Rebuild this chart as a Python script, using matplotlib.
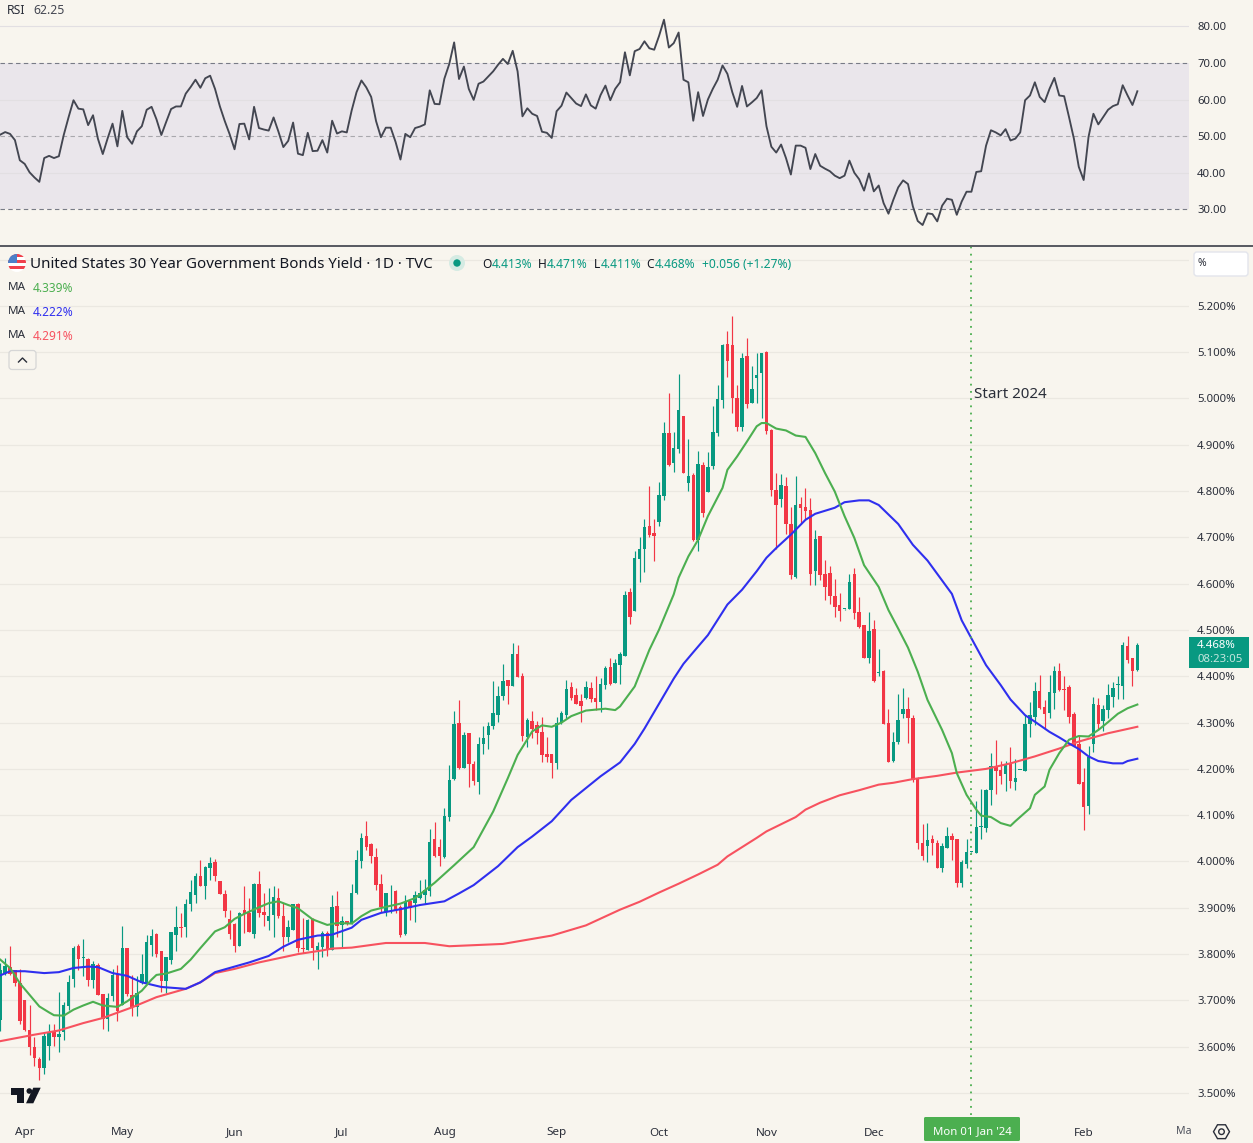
import numpy as np
import matplotlib
matplotlib.use("Agg")
import matplotlib.pyplot as plt
from matplotlib.patches import Circle, FancyBboxPatch, Rectangle, Polygon, RegularPolygon

plt.rcParams['font.family'] = ['Noto Sans', 'DejaVu Sans']

opens = [3.658,3.760,3.773,3.766,3.737,3.701,3.635,3.599,3.574,3.553,
 3.602,3.633,3.622,3.631,3.687,3.747,3.818,3.791,3.790,3.745,
 3.777,3.714,3.660,3.709,3.758,3.691,3.814,3.712,3.686,3.737,
 3.737,3.820,3.844,3.807,3.742,3.788,3.842,3.858,3.858,3.909,
 3.928,3.969,3.948,3.987,3.999,3.958,3.930,3.876,3.865,3.817,
 3.896,3.889,3.844,3.952,3.891,3.872,3.885,3.922,3.883,3.838,
 3.853,3.908,3.814,3.809,3.876,3.808,3.815,3.845,3.809,3.904,3.862,3.872,
 3.864,3.932,4.002,4.056,4.038,4.010,3.952,3.892,
 3.931,3.937,3.902,3.844,3.914,3.910,3.921,3.928,3.936,4.049,
 4.032,4.010,4.097,4.179,4.299,4.202,4.277,4.211,4.172,4.254,
 4.274,4.293,4.317,4.358,4.392,4.379,4.448,4.401,4.269,4.304,
 4.295,4.280,4.233,4.233,4.212,4.299,4.316,4.377,4.360,4.347,
 4.353,4.375,4.353,4.345,4.381,4.420,4.385,4.425,4.444,4.581,
 4.540,4.654,4.676,4.725,4.710,4.734,4.790,4.926,4.861,4.891,
 4.963,4.818,4.835,4.695,4.857,4.799,4.855,4.926,4.997,5.118,
 5.116,5.001,4.939,5.092,4.991,5.045,5.055,5.101,4.932,4.803,
 4.784,4.812,4.728,4.615,4.773,4.766,4.760,4.628,4.702,4.620,
 4.624,4.574,4.553,4.545,4.545,4.620,4.538,4.510,4.440,4.502,
 4.408,4.411,4.299,4.217,4.258,4.319,4.329,4.309,4.180,4.041,
 4.034,4.049,4.041,3.985,4.030,4.054,4.049,3.954,3.995,4.020,
 4.019,4.075,4.073,4.155,4.207,4.198,4.189,4.211,4.172,4.197,
 4.196,4.297,4.312,4.368,4.334,4.321,4.364,4.411,4.372,4.377,
 4.319,4.254,4.172,4.120,4.254,4.338,4.303,4.327,4.355,4.381,
 4.379,4.465,4.439,4.413]
highs = [3.781,3.791,3.817,3.766,3.768,3.701,3.689,3.622,3.578,3.630,
 3.648,3.648,3.719,3.696,3.755,3.818,3.822,3.833,3.791,3.786,
 3.781,3.714,3.716,3.768,3.777,3.860,3.814,3.755,3.753,3.800,
 3.842,3.854,3.845,3.807,3.794,3.848,3.904,3.888,3.919,3.960,
 3.975,4.004,3.991,4.009,4.005,3.958,3.939,3.896,3.867,3.890,
 3.948,3.921,3.953,3.980,3.932,3.942,3.947,3.942,3.910,3.874,
 3.909,3.910,3.878,3.875,3.878,3.827,3.849,3.849,3.928,3.937,3.882,3.872,
 3.952,4.024,4.061,4.088,4.040,4.029,3.972,3.932,
 3.950,3.938,3.905,3.928,3.916,3.936,3.961,3.963,4.070,4.086,
 4.049,4.115,4.209,4.325,4.349,4.279,4.277,4.218,4.268,4.293,
 4.302,4.390,4.378,4.427,4.392,4.473,4.468,4.407,4.309,4.325,
 4.304,4.313,4.269,4.233,4.312,4.325,4.392,4.388,4.374,4.362,
 4.390,4.388,4.401,4.396,4.422,4.440,4.437,4.452,4.585,4.591,
 4.671,4.700,4.740,4.810,4.740,4.820,4.950,5.012,4.928,5.053,
 4.963,4.913,4.840,4.887,4.863,4.885,4.984,5.030,5.118,5.146,
 5.178,5.030,5.099,5.131,5.071,5.099,5.099,5.103,4.934,4.840,
 4.838,4.831,4.766,4.833,4.788,4.807,4.786,4.717,4.702,4.652,
 4.639,4.611,4.579,4.546,4.622,4.634,4.571,4.511,4.538,4.521,
 4.459,4.413,4.329,4.279,4.362,4.375,4.355,4.316,4.183,4.082,
 4.084,4.057,4.047,4.041,4.075,4.062,4.049,4.004,4.049,4.021,
 4.131,4.157,4.157,4.235,4.263,4.217,4.217,4.247,4.222,4.198,
 4.316,4.344,4.387,4.403,4.349,4.403,4.422,4.428,4.400,4.381,
 4.323,4.271,4.202,4.250,4.355,4.353,4.338,4.383,4.387,4.400,
 4.474,4.487,4.439,4.471]
lows = [3.633,3.755,3.755,3.732,3.648,3.633,3.583,3.558,3.529,3.540,
 3.572,3.601,3.588,3.615,3.680,3.730,3.766,3.752,3.732,3.727,
 3.712,3.638,3.633,3.698,3.655,3.691,3.709,3.666,3.667,3.736,
 3.737,3.795,3.794,3.719,3.717,3.779,3.806,3.837,3.838,3.894,
 3.910,3.948,3.920,3.960,3.957,3.929,3.881,3.832,3.804,3.817,
 3.845,3.847,3.835,3.881,3.861,3.853,3.838,3.878,3.806,3.827,
 3.853,3.804,3.802,3.808,3.788,3.768,3.794,3.796,3.809,3.838,3.814,3.863,
 3.864,3.930,3.987,4.025,3.997,3.939,3.892,3.882,
 3.889,3.889,3.836,3.842,3.874,3.869,3.918,3.909,3.925,4.010,
 3.991,4.008,4.087,4.176,4.199,4.202,4.160,4.166,4.146,4.233,
 4.243,4.287,4.302,4.349,4.340,4.379,4.398,4.261,4.248,4.267,
 4.254,4.214,4.215,4.181,4.200,4.297,4.310,4.349,4.340,4.302,
 4.351,4.345,4.327,4.322,4.373,4.381,4.385,4.384,4.444,4.512,
 4.540,4.604,4.626,4.700,4.650,4.725,4.781,4.855,4.842,4.883,
 4.840,4.801,4.693,4.671,4.743,4.797,4.848,4.920,4.980,5.047,
 4.969,4.930,4.930,4.980,4.991,4.991,4.958,4.924,4.790,4.676,
 4.766,4.708,4.611,4.613,4.728,4.738,4.598,4.598,4.609,4.564,
 4.557,4.529,4.520,4.544,4.545,4.524,4.505,4.440,4.429,4.388,
 4.401,4.296,4.214,4.214,4.254,4.309,4.256,4.171,4.027,4.004,
 3.998,4.013,3.985,3.978,4.030,4.004,3.944,3.946,3.987,4.019,
 4.019,4.049,4.064,4.123,4.146,4.168,4.153,4.159,4.155,4.197,
 4.196,4.269,4.295,4.329,4.286,4.310,4.329,4.368,4.327,4.299,
 4.250,4.168,4.067,4.103,4.237,4.284,4.282,4.310,4.334,4.351,
 4.351,4.428,4.379,4.411]
closes = [3.766,3.775,3.758,3.737,3.655,3.635,3.599,3.575,3.553,3.624,
 3.632,3.621,3.628,3.691,3.740,3.813,3.790,3.793,3.745,3.779,
 3.712,3.660,3.706,3.755,3.678,3.814,3.714,3.686,3.717,3.758,
 3.827,3.840,3.801,3.742,3.794,3.848,3.858,3.857,3.909,3.935,
 3.969,3.948,3.988,3.996,3.969,3.929,3.894,3.844,3.817,3.889,
 3.886,3.847,3.952,3.889,3.885,3.883,3.923,3.883,3.838,3.858,
 3.908,3.813,3.810,3.874,3.813,3.818,3.845,3.809,3.901,3.861,3.872,3.865,
 3.931,4.004,4.051,4.031,4.011,3.950,3.902,3.932,
 3.932,3.896,3.842,3.913,3.900,3.928,3.932,3.939,4.043,4.011,
 4.011,4.099,4.176,4.297,4.202,4.274,4.211,4.174,4.253,4.267,
 4.293,4.321,4.358,4.390,4.378,4.448,4.399,4.270,4.306,4.286,
 4.277,4.230,4.226,4.212,4.299,4.320,4.373,4.353,4.340,4.336,
 4.377,4.351,4.345,4.384,4.418,4.384,4.429,4.448,4.576,4.528,
 4.656,4.676,4.723,4.706,4.702,4.792,4.926,4.857,4.894,4.976,
 4.840,4.833,4.695,4.859,4.753,4.853,4.928,4.999,5.116,5.081,
 5.001,4.939,5.088,4.989,5.021,5.051,5.099,4.930,4.803,4.769,
 4.814,4.728,4.618,4.769,4.764,4.758,4.622,4.697,4.618,4.592,
 4.574,4.549,4.540,4.546,4.603,4.537,4.507,4.440,4.498,4.390,
 4.410,4.296,4.214,4.258,4.305,4.329,4.311,4.175,4.039,4.011,
 4.047,4.041,3.987,4.034,4.054,4.047,3.954,3.998,4.021,4.021,
 4.075,4.077,4.155,4.207,4.196,4.185,4.209,4.174,4.181,4.198,
 4.297,4.316,4.368,4.331,4.319,4.366,4.411,4.370,4.371,4.312,
 4.250,4.168,4.118,4.226,4.340,4.298,4.329,4.359,4.375,4.383,
 4.467,4.435,4.411,4.468]

rsi = [50.4,51.1,50.6,48.9,43.4,42.4,40.1,38.7,37.5,44.0,44.6,44.0,44.5,50.3,55.2,59.8,57.5,57.3,53.0,55.7,
 49.3,45.1,49.4,53.4,47.2,56.9,49.7,47.9,51.3,52.7,57.2,58.0,54.6,50.3,53.9,57.4,58.1,58.1,61.6,63.4,
 65.4,63.2,65.8,66.5,62.9,58.1,54.1,50.5,46.4,53.3,53.4,49.1,58.0,52.2,51.8,51.5,55.1,51.2,47.0,48.7,
 53.7,45.2,44.8,50.9,45.9,46.0,48.9,45.5,54.2,50.7,51.3,51.0,57.0,62.0,65.2,63.3,60.7,54.1,49.7,52.3,
 52.3,48.4,43.6,50.6,49.7,52.2,52.6,53.2,62.5,58.8,58.7,65.7,69.7,75.6,65.6,69.0,62.9,59.9,64.3,64.9,
 66.3,67.7,69.5,71.1,69.7,73.3,67.7,55.4,57.6,56.1,55.5,51.2,50.9,49.5,56.8,58.3,61.9,60.4,58.9,58.2,
 61.4,58.4,57.5,61.2,63.8,59.8,62.9,64.7,72.9,66.6,73.2,73.8,75.9,74.0,73.6,77.4,81.8,74.2,75.4,78.3,
 65.4,64.7,54.2,62.0,55.5,60.0,62.9,65.4,69.3,67.0,62.0,58.0,63.7,58.1,59.2,60.4,62.5,52.7,47.1,45.5,
 47.7,44.0,39.5,47.4,47.4,46.8,41.0,45.1,41.9,41.1,40.4,39.2,38.5,39.2,43.3,40.0,38.2,35.1,39.8,34.9,
 36.5,31.7,28.8,32.6,36.0,37.9,36.9,30.8,26.8,25.7,28.9,28.7,26.7,31.0,32.9,32.6,28.5,32.1,34.8,34.8,
 40.2,40.4,47.4,51.6,51.0,50.2,51.9,48.8,49.3,51.0,59.8,61.1,64.7,60.7,59.3,62.9,65.9,61.1,60.9,55.2,
 49.3,41.6,38.0,49.8,56.1,53.2,55.2,57.2,58.2,58.7,63.9,61.1,58.5,62.25]

ma_green_day = [0,2,4,6,8,10,11,13,15,17,19,21,24,26,29,31,32,34,37,39,41,44,46,48,50,53,55,57,59,61,64,67,69,72,74,76,79,82,85,89,93,97,
 101,104,106,109,111,113,115,117,120,124,126,127,130,133,135,138,139,141,143,145,148,149,151,153,155,156,157,159,161,163,165,167,169,171,173,175,177,
 180,182,184,186,188,190,193,195,196,198,200,201,203,205,207,208,211,212,214,215,217,219,221,223,225,227,229,231,233]
ma_green = [3.788,3.770,3.737,3.712,3.687,3.674,3.668,3.667,3.680,3.689,3.697,3.689,3.686,3.698,3.721,3.745,3.755,3.758,3.768,3.788,3.813,3.849,3.858,3.876,3.887,3.901,3.910,3.914,3.906,3.899,3.875,3.863,3.867,3.866,3.882,3.894,3.902,3.909,3.921,3.954,3.992,4.031,
 4.108,4.180,4.230,4.281,4.294,4.291,4.300,4.314,4.326,4.330,4.327,4.335,4.378,4.457,4.501,4.577,4.613,4.659,4.695,4.746,4.807,4.846,4.875,4.907,4.940,4.947,4.947,4.935,4.931,4.920,4.917,4.882,4.839,4.799,4.746,4.699,4.640,
 4.593,4.543,4.503,4.462,4.410,4.349,4.284,4.234,4.191,4.144,4.112,4.099,4.096,4.083,4.077,4.087,4.115,4.144,4.162,4.198,4.234,4.263,4.271,4.270,4.284,4.301,4.319,4.331,4.339]

ma_blue_day = [0,2,5,9,12,15,18,20,23,26,29,33,38,41,44,48,51,55,58,61,65,68,72,74,78,82,86,91,94,97,102,106,109,113,117,123,127,130,132,135,138,140,142,145,149,152,155,157,159,162,165,167,171,173,176,178,180,184,187,190,195,197,199,202,205,207,210,212,215,217,219,221,223,225,228,230,231,233]
ma_blue = [3.754,3.763,3.763,3.759,3.761,3.770,3.773,3.772,3.759,3.753,3.739,3.729,3.725,3.739,3.761,3.773,3.782,3.796,3.816,3.831,3.840,3.842,3.857,3.874,3.889,3.897,3.906,3.914,3.931,3.949,3.990,4.031,4.054,4.087,4.133,4.184,4.214,4.254,4.287,4.341,4.395,4.427,4.452,4.489,4.555,4.587,4.627,4.656,4.677,4.706,4.738,4.751,4.764,4.776,4.780,4.780,4.770,4.729,4.684,4.650,4.578,4.521,4.482,4.424,4.381,4.350,4.316,4.302,4.280,4.268,4.255,4.243,4.227,4.217,4.212,4.212,4.217,4.222]

ma_red_day = [0,7,12,17,21,27,32,38,41,44,48,53,57,61,66,68,72,79,87,92,103,113,120,127,131,135,139,143,147,149,155,157,163,165,168,172,176,180,183,187,192,196,202,207,212,217,221,227,233]
ma_red = [3.612,3.626,3.635,3.651,3.662,3.685,3.707,3.725,3.739,3.759,3.768,3.782,3.791,3.800,3.808,3.812,3.814,3.824,3.824,3.817,3.822,3.840,3.862,3.896,3.913,3.933,3.952,3.972,3.993,4.011,4.051,4.065,4.096,4.112,4.127,4.143,4.154,4.166,4.170,4.178,4.185,4.192,4.200,4.212,4.227,4.244,4.259,4.277,4.291]

price_ticks = [3.5,3.6,3.7,3.8,3.9,4.0,4.1,4.2,4.3,4.4,4.5,4.6,4.7,4.8,4.9,5.0,5.1,5.2,5.3]
rsi_ticks = [30,40,50,60,70,80]
month_days = [5,25,48,70,91,114,135,157,179,222]
month_names = ['Apr','May','Jun','Jul','Aug','Sep','Oct','Nov','Dec','Feb']
start_day = 199

BG = '#F8F5EE'
GRID = '#EBE8E1'
UP = '#089981'
DOWN = '#F23645'
DARK = '#2A2E39'
W, H = 1253, 1143
DAY_PX = 4.88   # pixels per candle
PLOT_R = 1189   # end of the plot area

def add_axes_px(top, bottom):
    return fig.add_axes([0, 1 - bottom / H, PLOT_R / W, (bottom - top) / H])

fig = plt.figure(figsize=(W / 100, H / 100), dpi=100, facecolor=BG)

# RSI panel
ax_rsi = add_axes_px(0, 246)
ax_rsi.set_facecolor(BG)
ax_rsi.set_xlim(-0.3 / DAY_PX, (PLOT_R - 0.3) / DAY_PX)
ax_rsi.set_ylim(30 - 36.7 / 3.66, 80 + 26.3 / 3.66)
ax_rsi.axhspan(30, 70, color='#EAE6EB', lw=0, zorder=0)
for v in [40, 60, 80]:
    ax_rsi.axhline(v, color='#E2DFE2', lw=0.8, zorder=1)
for v in [30, 70]:
    ax_rsi.axhline(v, color='#787B86', lw=0.8, ls=(0, (4, 3)), zorder=1)
ax_rsi.axhline(50, color='#A9A8AD', lw=0.8, ls=(0, (4, 3)), zorder=1)
ax_rsi.plot(range(len(rsi)), rsi, color='#434651', lw=1.35, zorder=3)
ax_rsi.yaxis.tick_right()
ax_rsi.set_yticks(rsi_ticks)
ax_rsi.set_yticklabels([f'{v:.2f}' for v in rsi_ticks])
ax_rsi.tick_params(axis='y', length=0, pad=5.8, labelsize=8.2, labelcolor='#2A2E39')
ax_rsi.set_xticks([])
for s in ax_rsi.spines.values():
    s.set_visible(False)

# price panel
ax = add_axes_px(247, 1115)
ax.set_facecolor(BG)
ax.set_xlim(-0.3 / DAY_PX, (PLOT_R - 0.3) / DAY_PX)
ax.set_ylim(4.0 + (861.5 - 1115) / 463, 4.0 + (861.5 - 247) / 463)
for v in price_ticks:
    ax.axhline(v, color=GRID, lw=0.9, zorder=1)

o = np.array(opens)
c = np.array(closes)
days = np.arange(len(o))
colors = [UP if cl >= op else DOWN for op, cl in zip(o, c)]
ax.vlines(days, lows, highs, colors=colors, lw=0.85, zorder=2)
ax.bar(days, np.maximum(np.abs(c - o), 0.002), bottom=np.minimum(o, c), width=0.72,
       color=colors, lw=0, zorder=2)

ax.plot(ma_red_day, ma_red, color='#F7525F', lw=1.5, zorder=3)
ax.plot(ma_blue_day, ma_blue, color='#2F2FEF', lw=1.5, zorder=4)
ax.plot(ma_green_day, ma_green, color='#4CAF50', lw=1.5, zorder=5)
ax.axvline(start_day, color='#4CAF50', lw=1.3, ls=(0, (1, 3)), zorder=6)

ax.yaxis.tick_right()
ax.set_yticks(price_ticks)
ax.set_yticklabels([f'{v:.3f}%' if v < 5.25 else '' for v in price_ticks])
ax.tick_params(axis='y', length=0, pad=5.8, labelsize=8.2, labelcolor='#2A2E39')
ax.set_xticks(month_days)
ax.set_xticklabels(month_names)
ax.tick_params(axis='x', length=0, pad=9, labelsize=8.4, labelcolor='#2A2E39')
for s in ax.spines.values():
    s.set_visible(False)

# overlay in pixels for the chart furniture
ov = fig.add_axes([0, 0, 1, 1], zorder=10)
ov.set_xlim(0, W)
ov.set_ylim(H, 0)
ov.axis('off')
ov.patch.set_alpha(0)

ov.plot([0, W], [246, 246], color=DARK, lw=1.1)

ov.text(7, 11, 'RSI', fontsize=8.8, color='#2A2E39', va='center')
ov.text(33, 11, '62.25', fontsize=8.8, color='#434651', va='center')

# flag
flag = Circle((17, 263), 9, transform=ov.transData)
for i, col in enumerate(['#F0404C', '#FFFFFF', '#F0404C', '#FFFFFF', '#F0404C', '#FFFFFF']):
    r = Rectangle((8, 254 + i * 3), 18, 3, color=col, lw=0)
    ov.add_patch(r)
    r.set_clip_path(flag)
r = Rectangle((8, 254), 9, 9, color='#4C7FC8', lw=0)
ov.add_patch(r)
r.set_clip_path(flag)

ov.text(30, 264, 'United States 30 Year Government Bonds Yield · 1D · TVC', fontsize=10.9, color='#131722', va='center')
ov.add_patch(Circle((457, 263), 8, color='#D5EBE3', lw=0))
ov.add_patch(Circle((457, 263), 3.7, color=UP, lw=0))

ohlc_x = [482.5, 537.5, 593.5, 646]
ohlc_name = ['O', 'H', 'L', 'C']
ohlc_val = ['4.413%', '4.471%', '4.411%', '4.468%']
ohlc_val_x = [491.5, 546.5, 600.5, 654.5]
for n, nx, t, tx in zip(ohlc_name, ohlc_x, ohlc_val, ohlc_val_x):
    ov.text(nx, 264, n, fontsize=8.6, color='#131722', va='center')
    ov.text(tx, 264, t, fontsize=8.6, color=UP, va='center')
ov.text(702, 264, '+0.056 (+1.27%)', fontsize=8.7, color=UP, va='center')

for yy, val, col in zip([288, 312, 336], ['4.339%', '4.222%', '4.291%'], ['#4CAF50', '#2F2FEF', '#F7525F']):
    ov.text(8, yy, 'MA', fontsize=8.4, color='#2A2E39', va='center')
    ov.text(33, yy, val, fontsize=8.6, color=col, va='center')

# collapse button
ov.add_patch(FancyBboxPatch((9, 350.5), 27, 19, boxstyle='round,pad=0,rounding_size=3', fc=BG, ec='#D6D6D6', lw=0.9))
ov.plot([18.5, 22.5, 26.5], [362, 358, 362], color='#2A2E39', lw=1.0)

# % box
ov.add_patch(FancyBboxPatch((1194, 252), 54, 24, boxstyle='round,pad=0,rounding_size=3', fc='#FFFFFF', ec='#E3E5EC', lw=1.0))
ov.text(1197, 264, '%', fontsize=7.5, color='#2A2E39', va='center')

ov.text(974, 394, 'Start 2024', fontsize=10.9, color='#2A2E39', va='center')

# last price tag
ov.add_patch(Rectangle((1189, 637), 60, 31, color=UP, lw=0))
ov.text(1197, 646, '4.468%', fontsize=8.2, color='#FFFFFF', va='center', fontweight='bold')
ov.text(1197, 660, '08:23:05', fontsize=8.2, color='#C4E6DE', va='center')

# date label
ov.add_patch(FancyBboxPatch((924, 1117), 96, 24, boxstyle='round,pad=0,rounding_size=1.5', fc='#4CAF50', ec='none'))
ov.text(972, 1131.5, "Mon 01 Jan '24", fontsize=8.2, color='#FFFFFF', va='center', ha='center', fontweight='bold')

# cut off month at the right edge
ov.text(1176, 1131, 'Ma', fontsize=7.6, color='#50535E', va='center')
ov.add_patch(RegularPolygon((1221.5, 1131.7), 6, radius=8, orientation=np.pi / 2, fc='none', ec='#2A2E39', lw=1.0))
ov.add_patch(Circle((1221.5, 1131.7), 2.8, fc='none', ec='#2A2E39', lw=1.0))

# logo
ov.add_patch(Polygon([(10.7, 1087.7), (24, 1087.7), (24, 1103.3), (17.3, 1103.3), (17.3, 1095), (10.7, 1095)], color='#131722', lw=0))
ov.add_patch(Circle((29.3, 1091), 2.8, color='#131722', lw=0))
ov.add_patch(Polygon([(33.3, 1087.7), (40.7, 1087.7), (33.3, 1103.3), (26, 1103.3)], color='#131722', lw=0))

fig.savefig('out.png', dpi=100, facecolor=BG)
